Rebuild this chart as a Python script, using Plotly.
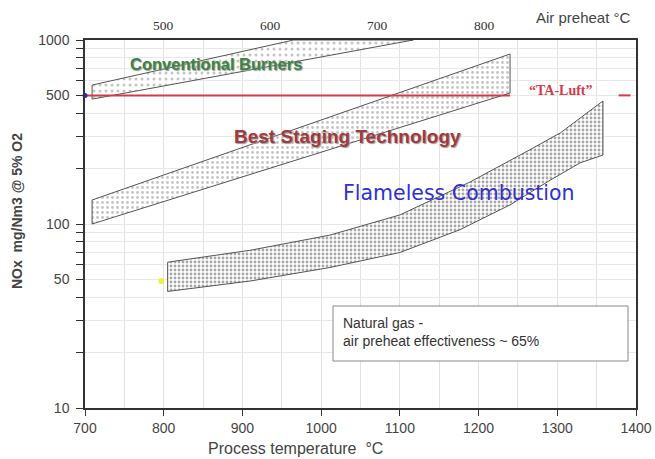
import plotly.graph_objects as go

# ---------------- data ----------------
# Conventional burners band (process temperature °C, NOx mg/Nm3)
conv_lower_T = [709, 1117]
conv_lower = [477, 1000]
conv_upper_T = [709, 965]
conv_upper = [569, 1000]

# Best staging technology band
best_lower_T = [709, 1240]
best_lower = [100, 515]
best_upper_T = [709, 1240]
best_upper = [135, 839]

# Flameless combustion band
flam_upper_T = [805, 910, 1011, 1100, 1189, 1265, 1304, 1358]
flam_upper = [62, 72, 87, 112, 169, 253, 313, 466]
flam_lower_T = [805, 910, 1011, 1100, 1176, 1240, 1291, 1329, 1358]
flam_lower = [43, 49, 58, 70, 93, 127, 173, 215, 237]

# TA-Luft limit
taluft_T = [700, 1240]
taluft_value = 500
taluft_dash_T = [1378, 1393]

# Axis ticks
x_ticks = [700, 800, 900, 1000, 1100, 1200, 1300, 1400]
y_labels = {10: "10", 50: "50", 100: "100", 500: "500", 1000: "1000"}
air_ticks = [500, 600, 700, 800]

# ---------------- figure ----------------
W, H = 655, 459
L, R, T, B = 85, 19, 40, 51
pw, ph = W - L - R, H - T - B


def px(x):
    return (x - L) / pw


def py(y):
    return (H - B - y) / ph


fig = go.Figure()


def band(lT, lv, uT, uv, pat):
    xs = list(lT) + list(reversed(uT)) + [lT[0]]
    ys = list(lv) + list(reversed(uv)) + [lv[0]]
    fig.add_trace(go.Scatter(
        x=xs, y=ys, mode="lines", fill="toself",
        line=dict(color="#555555", width=1),
        fillcolor="white", fillpattern=pat,
        hoverinfo="skip", showlegend=False))


band(conv_lower_T, conv_lower, conv_upper_T, conv_upper,
     dict(shape=".", bgcolor="white", fgcolor="#8a8a8a", size=6, solidity=0.2))
band(best_lower_T, best_lower, best_upper_T, best_upper,
     dict(shape=".", bgcolor="white", fgcolor="#8a8a8a", size=5, solidity=0.25))
band(flam_lower_T, flam_lower, flam_upper_T, flam_upper,
     dict(shape=".", bgcolor="white", fgcolor="#505050", size=4, solidity=0.38))

# TA-Luft line
fig.add_trace(go.Scatter(x=taluft_T, y=[taluft_value] * 2, mode="lines",
                         line=dict(color="#d23a4a", width=2),
                         hoverinfo="skip", showlegend=False))
fig.add_trace(go.Scatter(x=taluft_dash_T, y=[taluft_value] * 2, mode="lines",
                         line=dict(color="#d23a4a", width=2),
                         hoverinfo="skip", showlegend=False, cliponaxis=False))
# markers
fig.add_trace(go.Scatter(x=[700], y=[500], mode="markers",
                         marker=dict(color="#2030c0", size=5),
                         cliponaxis=False, hoverinfo="skip", showlegend=False))
fig.add_trace(go.Scatter(x=[797], y=[49], mode="markers",
                         marker=dict(color="#f0f040", size=6),
                         cliponaxis=False, hoverinfo="skip", showlegend=False))
# dummy for top axis
fig.add_trace(go.Scatter(x=[600], y=[10], xaxis="x2", mode="markers",
                         marker=dict(opacity=0), hoverinfo="skip", showlegend=False))

yticks = []
for d in [10, 100]:
    for m in range(1, 10):
        yticks.append(d * m)
yticks.append(1000)
ytext = [y_labels.get(v, "") for v in yticks]

axis_font = dict(family="Liberation Sans, Arial, sans-serif", size=14, color="#444444")

fig.update_layout(
    width=W, height=H,
    margin=dict(l=L, r=R, t=T, b=B, autoexpand=False),
    paper_bgcolor="white", plot_bgcolor="white",
    showlegend=False,
    xaxis=dict(range=[700, 1400], tickvals=x_ticks, ticks="outside", ticklen=6,
               tickcolor="#333", showline=True, linecolor="#333", linewidth=1.5,
               mirror=True, showgrid=True, gridcolor="#e2e2e2", gridwidth=1,
               minor=dict(dtick=50, showgrid=True, gridcolor="#e2e2e2", ticks=""),
               zeroline=False, tickfont=axis_font, automargin=False),
    xaxis2=dict(range=[427.1, 942.0], overlaying="x", side="top",
                tickvals=air_ticks, ticks="", showgrid=False, showline=False,
                zeroline=False, ticklabelstandoff=6, automargin=False,
                tickfont=dict(family="Liberation Serif, Times New Roman, serif",
                              size=13.5, color="#333333")),
    yaxis=dict(type="log", range=[1, 3], tickvals=yticks, ticktext=ytext,
               ticks="outside", ticklen=7, tickcolor="#333",
               showline=True, linecolor="#333", linewidth=1.5, mirror=True,
               showgrid=True, gridcolor="#e8e8e8", gridwidth=1,
               zeroline=False, tickfont=axis_font, automargin=False,
               ticklabelstandoff=4),
)

base = dict(xref="paper", yref="paper", showarrow=False,
            xanchor="center", yanchor="middle")
ann = []
ann.append(dict(base, text="NOx  mg/Nm3 @ 5% O2", x=px(17), y=py(211),
                textangle=-90,
                font=dict(family="Liberation Sans, Arial, sans-serif", size=14,
                          color="#444444", weight="bold")))
ann.append(dict(base, text="Process temperature  °C", x=px(295), y=py(449),
                font=dict(family="Liberation Sans, Arial, sans-serif", size=16,
                          color="#444444")))
ann.append(dict(base, text="Air preheat °C", x=px(583), y=py(17),
                font=dict(family="Liberation Sans, Arial, sans-serif", size=15,
                          color="#444444")))
ann.append(dict(base, text="Conventional Burners", x=px(216), y=py(64),
                font=dict(family="Liberation Sans, Arial, sans-serif",
                          size=16.5, color="#3a8446", weight="bold",
                          shadow="1px 1px 1px #9a9a9a")))
ann.append(dict(base, text="Best Staging Technology", x=px(347), y=py(136),
                font=dict(family="Liberation Sans, Arial, sans-serif",
                          size=19, color="#a03a40", weight="bold",
                          shadow="1px 1px 1px #9a9a9a")))
ann.append(dict(base, text="Flameless Combustion", x=px(459), y=py(193),
                font=dict(family="DejaVu Sans, Verdana, sans-serif",
                          size=20.5, color="#3030d0")))
ann.append(dict(base, text="“TA-Luft”", x=px(561), y=py(90),
                font=dict(family="Liberation Serif, Times New Roman, serif",
                          size=14, color="#d23a4a", weight="bold")))
ann.append(dict(base, text="Natural gas -<br>air preheat effectiveness ~ 65%",
                x=px(341), y=py(313), xanchor="left", yanchor="top", align="left",
                font=dict(family="Liberation Sans, Arial, sans-serif", size=14,
                          color="#333333")))
fig.update_layout(annotations=ann)

fig.add_shape(type="rect", xref="paper", yref="paper",
              x0=px(333), x1=px(628), y0=py(361), y1=py(306),
              line=dict(color="#888888", width=1), fillcolor="white")

fig.write_html("out.html",
               config={"displayModeBar": False},
               post_script="document.body.style.margin='0px';"
                           "document.body.style.overflow='hidden';")
